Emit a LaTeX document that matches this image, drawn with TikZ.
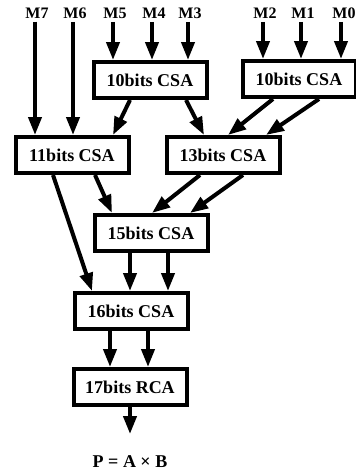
\documentclass[tikz,border=0pt]{standalone}
\usepackage{fontspec}
\setmainfont{Liberation Serif}
\usetikzlibrary{arrows.meta}
\begin{document}
\begin{tikzpicture}[x=1pt, y=-1pt, line width=4pt, box node/.style={rectangle,draw,line width=4pt,minimum width=113pt,minimum height=36pt,inner sep=0pt,font=\bfseries\fontsize{18}{18}\selectfont},in node/.style={inner sep=1.5pt,font=\bfseries\fontsize{16}{16}\selectfont},arr/.style={-{Triangle[width=13pt,length=18pt]}}]
\useasboundingbox (0,0) rectangle (356,472);
\begin{scope}
\node[in node] (m7) at (37,13) {M7};
\node[in node] (m6) at (75,13) {M6};
\node[in node] (m5) at (115,13) {M5};
\node[in node] (m4) at (154,13) {M4};
\node[in node] (m3) at (190,13) {M3};
\node[in node] (m2) at (265,13) {M2};
\node[in node] (m1) at (303,13) {M1};
\node[in node] (m0) at (344,13) {M0};
\node[box node] (c10a) at (150,80) {10bits CSA};
\node[box node] (c10b) at (299,79) {10bits CSA};
\node[box node] (c11) at (72,155) {11bits CSA};
\node[box node] (c13) at (223,155) {13bits CSA};
\node[box node] (c15) at (151,233) {15bits CSA};
\node[box node] (c16) at (131,311) {16bits CSA};
\node[box node] (r17) at (130,387) {17bits RCA};
\node[inner sep=0pt,font=\bfseries\fontsize{18}{18}\selectfont] (prod) at (130,462) {P = A × B};
%\node[box node] () at (,) {};
\end{scope}
\begin{scope}[arr]
\draw ([xshift=-2pt]m7.south) -- ([xshift=-2pt]m7.south |- c11.north);
\draw ([xshift=-2pt]m6.south) -- ([xshift=-2pt]m6.south |- c11.north);
\draw ([xshift=-2pt]m5.south) -- ([xshift=-2pt]m5.south |- c10a.north);
\draw ([xshift=-2pt]m4.south) -- ([xshift=-2pt]m4.south |- c10a.north);
\draw ([xshift=-2pt]m3.south) -- ([xshift=-2pt]m3.south |- c10a.north);
\draw ([xshift=-2pt]m2.south) -- ([xshift=-2pt]m2.south |- c10b.north);
\draw ([xshift=-2pt]m1.south) -- ([xshift=-2pt]m1.south |- c10b.north);
\draw ([xshift=-3pt]m0.south) -- ([xshift=-3pt]m0.south |- c10b.north);
\draw ([xshift=-20pt]c10a.south) -- ([xshift=41pt]c11.north);
\draw ([xshift=36pt]c10a.south) -- ([xshift=-19pt]c13.north);
\draw ([xshift=-26pt]c10b.south) -- ([xshift=5pt]c13.north);
\draw ([xshift=20pt]c10b.south) -- ([xshift=43pt]c13.north);
\draw ([xshift=-19pt]c11.south) -- ([xshift=-39pt]c16.north);
\draw ([xshift=23pt]c11.south) -- ([xshift=-39pt]c15.north);
\draw ([xshift=-23pt]c13.south) -- ([xshift=1pt]c15.north);
\draw ([xshift=20pt]c13.south) -- ([xshift=39pt]c15.north);
\draw ([xshift=-21pt]c15.south) -- ([xshift=-1pt]c16.north);
\draw ([xshift=17pt]c15.south) -- ([xshift=37pt]c16.north);
\draw ([xshift=-21pt]c16.south) -- ([xshift=-20pt]r17.north);
\draw ([xshift=17pt]c16.south) -- ([xshift=18pt]r17.north);
\draw[shorten >=20pt] (r17) -- (prod);
%\draw (a) -- (b);
\end{scope}
\end{tikzpicture}
\end{document}
